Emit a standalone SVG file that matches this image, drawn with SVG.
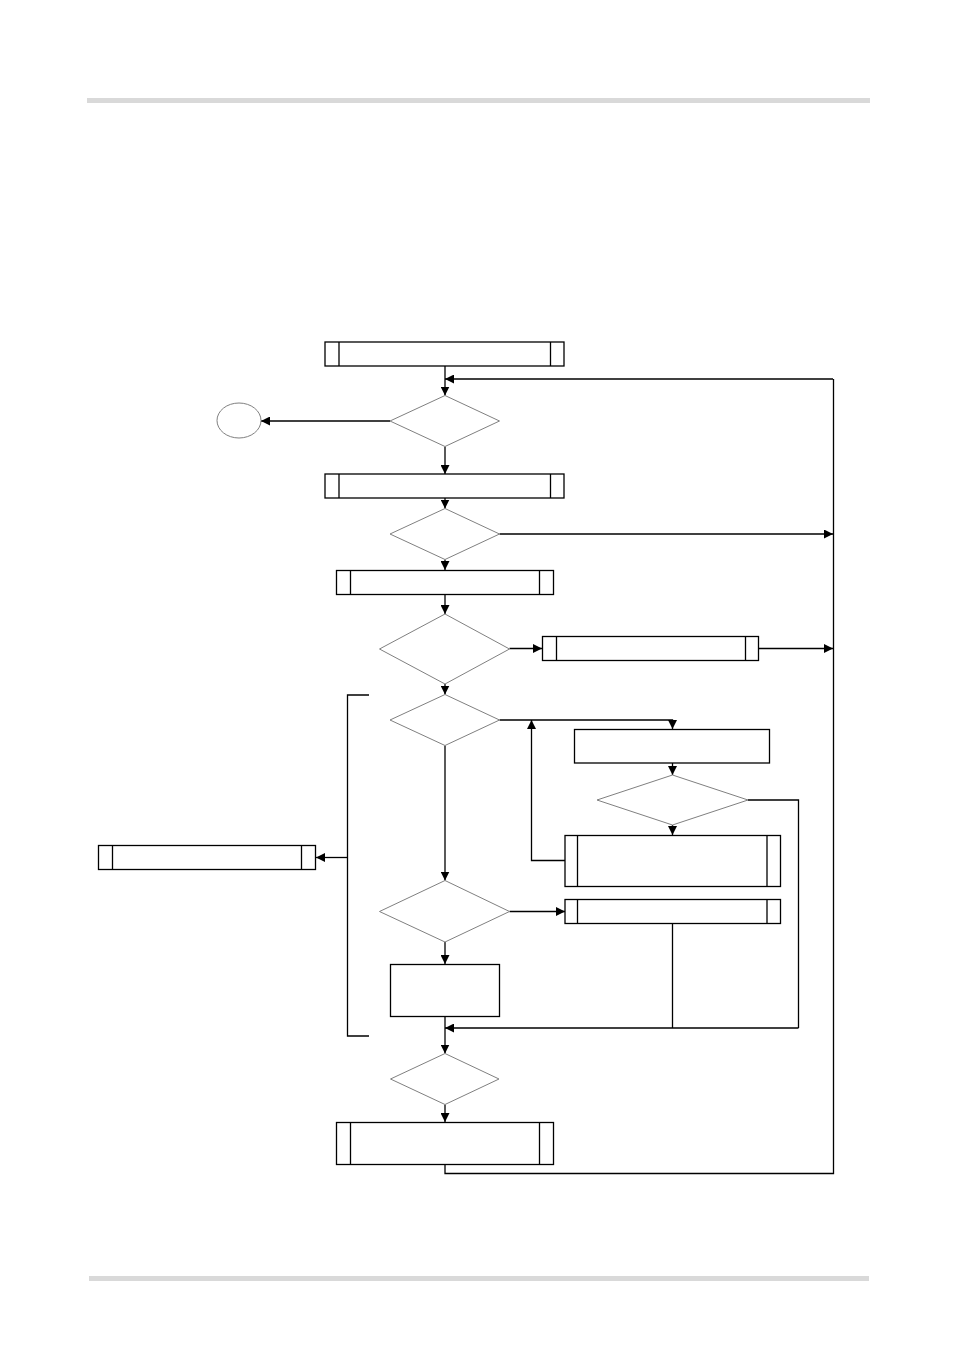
<svg xmlns="http://www.w3.org/2000/svg" width="954" height="1350" viewBox="0 0 954 1350">
<style>
.bar{fill:#d9d9d9;stroke:none}
.box{fill:#fff;stroke:#000;stroke-width:1.3}
.inner{stroke:#000;stroke-width:1.3;fill:none}
.dia{fill:#fff;stroke:#808080;stroke-width:1}
.ell{fill:#fff;stroke:#808080;stroke-width:1}
.ln{fill:none;stroke:#000;stroke-width:1.3}
.arr{fill:none;stroke:#000;stroke-width:1.3;marker-end:url(#ah)}
</style>
<defs>
<marker id="ah" markerUnits="userSpaceOnUse" markerWidth="9" markerHeight="9" refX="9" refY="4.5" orient="auto">
<path d="M0,0 L9,4.5 L0,9 z" fill="#000"/>
</marker>
</defs>
<rect class="bar" x="87" y="98" width="783" height="5"/>
<rect class="bar" x="89" y="1276" width="780" height="5"/>

<g id="connectors">
<path class="arr" d="M445,366 V395.5"/>
<path class="arr" d="M833,379 H445"/>
<path class="arr" d="M390,421 H261"/>
<path class="arr" d="M445,446.5 V474"/>
<path class="arr" d="M445,498 V508.5"/>
<path class="arr" d="M499.5,534 H833"/>
<path class="arr" d="M445,559.5 V570"/>
<path class="arr" d="M445,594 V614"/>
<path class="arr" d="M509.5,648.5 H542"/>
<path class="arr" d="M758.5,648.5 H833"/>
<path class="arr" d="M445,684 V694.5"/>
<path class="arr" d="M499.5,720 H672.5 V729"/>
<path class="arr" d="M565,860.5 H531.5 V720"/>
<path class="arr" d="M672.5,763 V775"/>
<path class="arr" d="M672.5,825 V835"/>
<path class="ln" d="M748,800 H798.5 V1028"/>
<path class="arr" d="M445,745.5 V880.5"/>
<path class="arr" d="M509.5,911.5 H565"/>
<path class="ln" d="M672.5,923.5 V1028"/>
<path class="arr" d="M798.5,1028 H445"/>
<path class="arr" d="M445,942 V964"/>
<path class="arr" d="M445,1016.5 V1053.5"/>
<path class="arr" d="M445,1104.5 V1122"/>
<path class="ln" d="M445,1164.5 V1173.5 H833.5 V379"/>
<path class="ln" d="M369,695 H347.5 V1036 H369"/>
<path class="arr" d="M347.5,857.5 H316"/>
</g>

<g id="n1"><rect class="box" x="325" y="342" width="239" height="24"/><path class="inner" d="M339,342 V366 M550.5,342 V366"/></g>
<g id="d1"><polygon class="dia" points="445,395.5 499.5,421 445,446.5 390,421"/></g>
<g id="end"><ellipse class="ell" cx="239" cy="420.5" rx="22" ry="17.5"/></g>
<g id="n2"><rect class="box" x="325" y="474" width="239" height="24"/><path class="inner" d="M339,474 V498 M550.5,474 V498"/></g>
<g id="d2"><polygon class="dia" points="445,508.5 499.5,534 445,559.5 390,534"/></g>
<g id="n3"><rect class="box" x="336.5" y="570.5" width="217" height="24"/><path class="inner" d="M350.5,570.5 V594.5 M539.5,570.5 V594.5"/></g>
<g id="d3"><polygon class="dia" points="445,614 509.5,649 445,684 379.5,649"/></g>
<g id="n4"><rect class="box" x="542.5" y="636.5" width="216" height="24"/><path class="inner" d="M556.5,636.5 V660.5 M745.5,636.5 V660.5"/></g>
<g id="d4"><polygon class="dia" points="445,694.5 499.5,720 445,745.5 390,720"/></g>
<g id="n5"><rect class="box" x="574.5" y="729.5" width="195" height="33.5"/></g>
<g id="d5"><polygon class="dia" points="672.5,775 748,800 672.5,825 597,800"/></g>
<g id="n6"><rect class="box" x="565" y="835.5" width="215.5" height="51"/><path class="inner" d="M577.5,835.5 V886.5 M767,835.5 V886.5"/></g>
<g id="n7"><rect class="box" x="98.5" y="845.5" width="217" height="24"/><path class="inner" d="M112.5,845.5 V869.5 M301.5,845.5 V869.5"/></g>
<g id="d6"><polygon class="dia" points="445,880.5 509.5,911.5 445,942 379.5,911.5"/></g>
<g id="n8"><rect class="box" x="565" y="899.5" width="215.5" height="24"/><path class="inner" d="M577.5,899.5 V923.5 M767,899.5 V923.5"/></g>
<g id="n9"><rect class="box" x="390.5" y="964.5" width="109" height="52"/></g>
<g id="d7"><polygon class="dia" points="445,1053.5 499,1079 445,1104.5 390.5,1079"/></g>
<g id="n10"><rect class="box" x="336.5" y="1122.5" width="217" height="42"/><path class="inner" d="M350.5,1122.5 V1164.5 M539.5,1122.5 V1164.5"/></g>
</svg>
